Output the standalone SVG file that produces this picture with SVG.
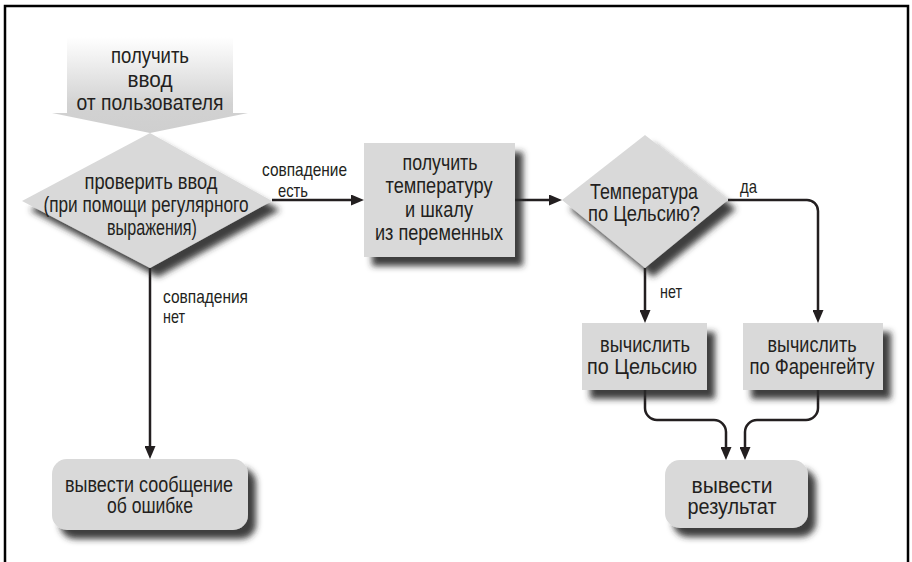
<svg xmlns="http://www.w3.org/2000/svg" width="912" height="562" viewBox="0 0 912 562">
<defs>
<style>
.t{font-family:"Liberation Sans",Arial,sans-serif;font-size:22.5px;fill:#231f20;text-anchor:middle}
.l{font-family:"Liberation Sans",Arial,sans-serif;font-size:19px;fill:#231f20}
.n{fill:#d9d9d9;filter:url(#sh)}
.c{fill:none;stroke:#231f20;stroke-width:2.5;marker-end:url(#ah)}
</style>
<linearGradient id="g" x1="0" y1="0" x2="0" y2="1">
<stop offset="0" stop-color="#ffffff"/>
<stop offset="0.7" stop-color="#d2d2d2"/>
<stop offset="1" stop-color="#cfcfcf"/>
</linearGradient>
<filter id="sh" x="-20%" y="-20%" width="150%" height="150%">
<feOffset in="SourceAlpha" dx="8" dy="9" result="o"/>
<feGaussianBlur in="o" stdDeviation="3" result="b"/>
<feFlood flood-color="#2a2a2a" flood-opacity="0.9"/>
<feComposite in2="b" operator="in" result="s"/>
<feMerge><feMergeNode in="s"/><feMergeNode in="SourceGraphic"/></feMerge>
</filter>
<marker id="ah" viewBox="0 0 13 11" refX="7" refY="5.5" markerWidth="13" markerHeight="11" markerUnits="userSpaceOnUse" orient="auto">
<path d="M0,0 L13,5.5 L0,11 z" fill="#231f20"/>
</marker>
</defs>
<rect width="912" height="562" fill="#ffffff"/>
<path d="M5,562 V6 H908 V562" fill="none" stroke="#000" stroke-width="2.5"/>

<g id="connectors">
<path class="c" d="M272,200 H358"/>
<path class="c" d="M515,200 H556"/>
<path class="c" d="M728,200 H807 A11,11 0 0 1 818,211 V317"/>
<path class="c" d="M645,268 V317"/>
<path class="c" d="M150,268 V453"/>
<path class="c" d="M645,390 V408 A12,12 0 0 0 657,420 H714 A12,12 0 0 1 726,432 V454"/>
<path class="c" d="M818,390 V408 A12,12 0 0 1 806,420 H757 A12,12 0 0 0 745,432 V454"/>
</g>

<g id="input">
<polygon points="67,37 233,37 233,113 248,113 150,133 52,113 67,113" fill="url(#g)"/>
<text class="t" x="150" y="63" textLength="78" lengthAdjust="spacingAndGlyphs">получить</text>
<text class="t" x="150" y="87" textLength="45" lengthAdjust="spacingAndGlyphs">ввод</text>
<text class="t" x="150" y="110" textLength="147" lengthAdjust="spacingAndGlyphs">от пользователя</text>
</g>

<g id="validate">
<polygon class="n" points="150,133 272,201 150,268 22,201"/>
<text class="t" x="151" y="189" textLength="133" lengthAdjust="spacingAndGlyphs">проверить ввод</text>
<text class="t" x="146" y="212" textLength="205" lengthAdjust="spacingAndGlyphs">(при помощи регулярного</text>
<text class="t" x="152" y="235" textLength="90" lengthAdjust="spacingAndGlyphs">выражения)</text>
</g>

<g id="getvars">
<rect class="n" x="364" y="143" width="151" height="114"/>
<text class="t" x="440" y="170" textLength="75" lengthAdjust="spacingAndGlyphs">получить</text>
<text class="t" x="439" y="193" textLength="107" lengthAdjust="spacingAndGlyphs">температуру</text>
<text class="t" x="439" y="217" textLength="68" lengthAdjust="spacingAndGlyphs">и шкалу</text>
<text class="t" x="439" y="240" textLength="128" lengthAdjust="spacingAndGlyphs">из переменных</text>
</g>

<g id="iscelsius">
<polygon class="n" points="645,135 728,200 645,268 562,200"/>
<text class="t" x="644" y="199" textLength="108" lengthAdjust="spacingAndGlyphs">Температура</text>
<text class="t" x="644" y="221" textLength="112" lengthAdjust="spacingAndGlyphs">по Цельсию?</text>
</g>

<g id="calcC">
<rect class="n" x="582" y="323" width="125" height="67"/>
<text class="t" x="645" y="352" textLength="90" lengthAdjust="spacingAndGlyphs">вычислить</text>
<text class="t" x="642" y="374" textLength="110" lengthAdjust="spacingAndGlyphs">по Цельсию</text>
</g>

<g id="calcF">
<rect class="n" x="743" y="323" width="140" height="67"/>
<text class="t" x="812" y="352" textLength="89" lengthAdjust="spacingAndGlyphs">вычислить</text>
<text class="t" x="812" y="374" textLength="125" lengthAdjust="spacingAndGlyphs">по Фаренгейту</text>
</g>

<g id="error">
<rect class="n" x="52" y="459" width="196" height="71" rx="15"/>
<text class="t" x="149" y="492" textLength="168" lengthAdjust="spacingAndGlyphs">вывести сообщение</text>
<text class="t" x="150" y="513" textLength="86" lengthAdjust="spacingAndGlyphs">об ошибке</text>
</g>

<g id="result">
<rect class="n" x="665" y="460" width="143" height="68" rx="15"/>
<text class="t" x="732" y="493" textLength="81" lengthAdjust="spacingAndGlyphs">вывести</text>
<text class="t" x="732" y="514" textLength="89" lengthAdjust="spacingAndGlyphs">результат</text>
</g>

<g id="labels">
<text class="l" x="262" y="176" textLength="85" lengthAdjust="spacingAndGlyphs">совпадение</text>
<text class="l" x="278" y="197" textLength="30" lengthAdjust="spacingAndGlyphs">есть</text>
<text class="l" x="163" y="303" textLength="85" lengthAdjust="spacingAndGlyphs">совпадения</text>
<text class="l" x="163" y="323" textLength="22" lengthAdjust="spacingAndGlyphs">нет</text>
<text class="l" x="740" y="193" textLength="17" lengthAdjust="spacingAndGlyphs">да</text>
<text class="l" x="660" y="298" textLength="22" lengthAdjust="spacingAndGlyphs">нет</text>
</g>
</svg>
